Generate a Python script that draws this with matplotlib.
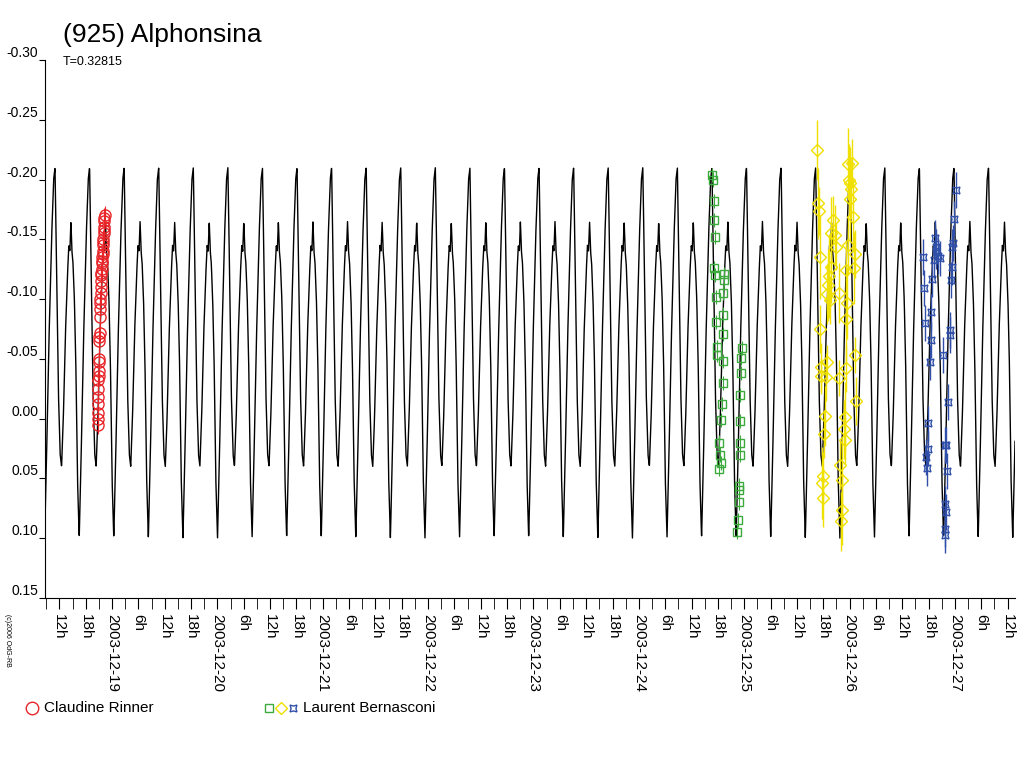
import numpy as np
import matplotlib
matplotlib.use("Agg")
import matplotlib.pyplot as plt
from matplotlib.lines import Line2D

plt.rcParams['font.family'] = ['Liberation Sans', 'DejaVu Sans']

# ======================================
# DATA (time in days from 2003-12-19 0h UT, reduced magnitude)
# ======================================
PERIOD = 0.32815
EPOCH = -0.541
# one period of the model curve
tpl_phase = [0.00, 0.05, 0.10, 0.15, 0.19, 0.24, 0.30, 0.36, 0.40, 0.43, 0.46,
             0.49, 0.52, 0.56, 0.60, 0.65, 0.70, 0.75, 0.82, 0.90, 0.96, 1.00]
tpl_mag = [-0.21, -0.12, -0.02, 0.03, 0.04, 0.00, -0.07, -0.12, -0.145, -0.14, -0.165,
           -0.14, -0.13, -0.10, -0.05, 0.05, 0.10, 0.04, -0.06, -0.15, -0.20, -0.21]

rinner_t = [-0.135, -0.134, -0.133, -0.132, -0.131, -0.130, -0.129, -0.128, -0.127, -0.126,
            -0.124, -0.122, -0.120, -0.118, -0.116, -0.114, -0.112, -0.110, -0.108, -0.106,
            -0.104, -0.102, -0.100, -0.098, -0.096, -0.094, -0.092, -0.090, -0.088, -0.086,
            -0.084, -0.082, -0.080, -0.078, -0.076, -0.074, -0.072, -0.070]
rinner_m = [0.005, 0.000, -0.005, -0.012, -0.018, -0.025, -0.032, -0.036, -0.040, -0.047,
            -0.050, -0.065, -0.068, -0.072, -0.085, -0.092, -0.097, -0.100, -0.105, -0.110,
            -0.115, -0.120, -0.122, -0.125, -0.130, -0.132, -0.135, -0.138, -0.140, -0.145,
            -0.148, -0.150, -0.155, -0.158, -0.160, -0.165, -0.168, -0.170]

green_t = [5.699, 5.705, 5.712, 5.715, 5.721, 5.718, 5.727, 5.731, 5.737, 5.740, 5.746,
           5.794, 5.794, 5.787, 5.784, 5.765, 5.772, 5.775, 5.765, 5.810, 5.810, 5.803,
           5.803, 5.800, 5.981, 5.974, 5.971, 5.961, 5.964, 5.961, 5.958, 5.952, 5.949,
           5.946, 5.942, 5.936]
green_m = [-0.204, -0.200, -0.182, -0.166, -0.152, -0.126, -0.120, -0.102, -0.081, -0.060, -0.053,
           -0.048, -0.030, -0.012, 0.001, 0.020, 0.030, 0.037, 0.042, -0.121, -0.116, -0.105,
           -0.087, -0.071, -0.059, -0.051, -0.038, -0.020, 0.002, 0.020, 0.030, 0.056, 0.060,
           0.070, 0.085, 0.095]

yellow_t = [6.695, 6.705, 6.711, 6.717, 6.724, 6.730, 6.733, 6.774, 6.781, 6.768, 6.758,
            6.749, 6.743, 6.749, 6.844, 6.819, 6.860, 6.875, 6.828, 6.806, 6.796, 6.781,
            6.812, 6.901, 6.983, 7.021, 7.008, 7.015, 7.002, 7.034, 7.049, 7.040, 6.983,
            6.970, 6.977, 6.964, 7.052, 6.964, 6.901, 7.059, 6.961, 6.945, 6.954, 6.907,
            6.932, 6.926, 6.923, 6.995]
yellow_m = [-0.225, -0.180, -0.174, -0.135, -0.075, -0.043, -0.036, -0.035, -0.047, -0.002, 0.013,
            0.048, 0.054, 0.066, -0.166, -0.155, -0.154, -0.144, -0.127, -0.119, -0.112, -0.104,
            -0.099, -0.105, -0.213, -0.214, -0.197, -0.192, -0.184, -0.169, -0.138, -0.126, -0.145,
            -0.124, -0.097, -0.083, -0.053, -0.042, -0.034, -0.015, -0.001, 0.009, 0.018, 0.039,
            0.051, 0.076, 0.086, -0.200]
yellow_e = [0.025, 0.030, 0.020, 0.035, 0.020, 0.020, 0.015, 0.020, 0.015, 0.025, 0.020,
            0.020, 0.030, 0.025, 0.020, 0.030, 0.025, 0.020, 0.030, 0.035, 0.030, 0.025,
            0.020, 0.025, 0.030, 0.020, 0.030, 0.025, 0.035, 0.030, 0.020, 0.030, 0.025,
            0.025, 0.030, 0.035, 0.015, 0.020, 0.015, 0.020, 0.030, 0.025, 0.020, 0.020,
            0.035, 0.030, 0.025, 0.030]

blue_t = [7.698, 7.707, 7.713, 7.777, 7.770, 7.767, 7.808, 7.824, 7.840, 7.856, 7.786,
          7.887, 8.008, 7.989, 7.982, 7.976, 7.973, 7.966, 7.957, 7.957, 7.935, 7.748,
          7.745, 7.729, 7.735, 7.919, 7.910, 7.925, 7.903, 7.919, 7.910, 7.910, 7.824,
          7.799]
blue_m = [-0.135, -0.109, -0.080, -0.089, -0.066, -0.047, -0.151, -0.140, -0.136, -0.134, -0.117,
          -0.053, -0.191, -0.167, -0.147, -0.144, -0.127, -0.116, -0.074, -0.070, -0.014, 0.004,
          0.025, 0.032, 0.041, 0.022, 0.022, 0.044, 0.071, 0.078, 0.092, 0.097, -0.144,
          -0.133]

# ======================================
# FIGURE
# ======================================
fig = plt.figure(figsize=(10.24, 7.68), dpi=100)
ax = fig.add_axes([45 / 1024, 1 - 598 / 768, 970 / 1024, 538 / 768])

x0, x1 = -0.636, 8.57
t = np.linspace(x0, x1, 6000)
phase = ((t - EPOCH) / PERIOD) % 1.0
ax.plot(t, np.interp(phase, tpl_phase, tpl_mag), color="black", lw=1.0)

ax.errorbar(rinner_t, rinner_m, yerr=0.008, fmt="o", ms=8, mfc="none", mec="#e8262a",
            ecolor="#e8262a", elinewidth=0.8, mew=1.0)
ax.errorbar(green_t, green_m, yerr=0.006, fmt="s", ms=6, mfc="none", mec="#3caa3c",
            ecolor="#3caa3c", elinewidth=0.8, mew=1.0)
ax.errorbar(yellow_t, yellow_m, yerr=yellow_e, fmt="D", ms=6, mfc="none", mec="#f0e000",
            ecolor="#f0e000", elinewidth=1.0, mew=1.0)
ax.errorbar(blue_t, blue_m, yerr=0.015, fmt="none", ecolor="#2f4fa8", elinewidth=1.0)
ax.plot(blue_t, blue_m, ls="none", marker=(4, 1, 45), ms=7, mfc="none", mec="#2f4fa8", mew=1.0)

ax.set_xlim(x0, x1)
ax.set_ylim(0.15, -0.30)
ax.set_yticks([-0.30, -0.25, -0.20, -0.15, -0.10, -0.05, 0.00, 0.05, 0.10, 0.15])
ax.set_yticklabels(["-0.30", "-0.25", "-0.20", "-0.15", "-0.10", "-0.05",
                    "0.00", "0.05", "0.10", "0.15"], fontsize=10, va="bottom")

major = []
labels = []
k = -2
while k * 0.25 <= 8.5 + 1e-9:
    major.append(k * 0.25)
    h = (k * 6) % 24
    labels.append("2003-12-%02d" % (19 + (k * 6) // 24) if h == 0 else "%dh" % h)
    k += 1
ax.set_xticks(major)
ax.set_xticklabels(labels, rotation=270, fontsize=11)
ax.set_xticks(np.arange(-0.625, 8.57, 0.25), minor=True)
ax.tick_params(axis="x", which="both", length=8, direction="out")
ax.tick_params(axis="y", length=4, pad=1)

for s in ["top", "right"]:
    ax.spines[s].set_visible(False)

fig.text(63 / 1024, 1 - 35 / 768, "(925) Alphonsina", fontsize=19, va="center")
fig.text(63 / 1024, 1 - 62 / 768, "T=0.32815", fontsize=9, va="center")
fig.text(4 / 1024, 1 - 640 / 768, "(c)2006 OdG-RB", fontsize=5, rotation=270, va="center")

# legend below the axis
ly = 1 - 708 / 768
fig.add_artist(Line2D([32 / 1024], [ly], marker="o", ms=9, mfc="none", mec="#e8262a",
                      transform=fig.transFigure))
fig.text(44 / 1024, ly, "Claudine Rinner", fontsize=11, va="center")
fig.add_artist(Line2D([269 / 1024], [ly], marker="s", ms=6, mfc="none", mec="#3caa3c",
                      transform=fig.transFigure))
fig.add_artist(Line2D([281 / 1024], [ly], marker="D", ms=6, mfc="none", mec="#f0e000",
                      transform=fig.transFigure))
fig.add_artist(Line2D([293 / 1024], [ly], marker=(4, 1, 45), ms=7, mfc="none", mec="#2f4fa8",
                      transform=fig.transFigure))
fig.text(303 / 1024, ly, "Laurent Bernasconi", fontsize=11, va="center")

fig.savefig("out.png", dpi=100)
